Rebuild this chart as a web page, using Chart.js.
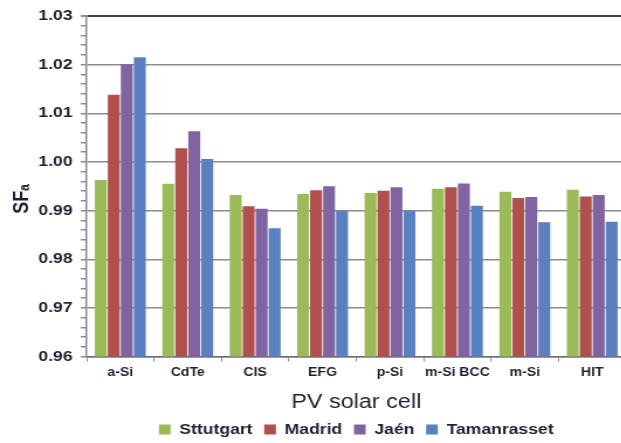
<!DOCTYPE html>
<html>
<head>
<meta charset="utf-8">
<script src="https://cdn.jsdelivr.net/npm/chart.js@4.4.0/dist/chart.umd.min.js"></script>
<style>
  body { margin: 0; background: #fff; overflow: hidden; }
  #wrap { width: 621px; height: 443px; overflow: hidden; }
  /* the source figure is stretched sideways a bit */
  #chart { transform: scaleX(1.17); transform-origin: 0 0; }
</style>
</head>
<body>
<div id="wrap"><canvas id="chart" width="536" height="443"></canvas></div>
<script>
const cells = ['a-Si', 'CdTe', 'CIS', 'EFG', 'p-Si', 'm-Si BCC', 'm-Si', 'HIT'];
const stuttgart   = [0.9963, 0.9955, 0.9932, 0.9934, 0.9936, 0.9945, 0.9939, 0.9943];
const madrid      = [1.0138, 1.0028, 0.9909, 0.9942, 0.9941, 0.9948, 0.9926, 0.9929];
const jaen        = [1.0201, 1.0063, 0.9904, 0.9950, 0.9948, 0.9956, 0.9928, 0.9932];
const tamanrasset = [1.0215, 1.0006, 0.9864, 0.9900, 0.9899, 0.9910, 0.9876, 0.9877];
const yMin = 0.96, yMax = 1.03, yStep = 0.002;

const textColor = '#1f1f33';
Chart.defaults.font.family = "Arial, 'Liberation Sans', sans-serif";
Chart.defaults.color = textColor;

// labels and grid only every 0.01, small ticks in between
const isMajor = v => Math.round(v * 1000) % 10 === 0;

new Chart(document.getElementById('chart'), {
  type: 'bar',
  data: {
    labels: cells,
    datasets: [
      { label: 'Sttutgart', data: stuttgart, backgroundColor: '#9bbb59' },
      { label: 'Madrid', data: madrid, backgroundColor: '#b0504d' },
      { label: 'Jaén', data: jaen, backgroundColor: '#8064a2' },
      { label: 'Tamanrasset', data: tamanrasset, backgroundColor: '#5b80bf' }
    ]
  },
  options: {
    responsive: false,
    animation: false,
    devicePixelRatio: 1,
    categoryPercentage: 0.77,
    barPercentage: 0.92,
    layout: { padding: { top: 16, right: 1, bottom: -4, left: 0 } },
    plugins: {
      tooltip: { enabled: false },
      legend: {
        position: 'bottom',
        fullSize: false,
        labels: {
          boxWidth: 10,
          boxHeight: 10,
          padding: 10,
          color: textColor,
          font: { size: 15, weight: 'bold' }
        }
      }
    },
    scales: {
      x: {
        grid: { offset: true, drawOnChartArea: false, tickLength: 5, tickColor: '#8c8c8c' },
        border: { color: '#6e6e6e', width: 1.5 },
        ticks: { padding: 4, maxRotation: 0, autoSkip: false, font: { size: 12, weight: 'bold' } },
        title: {
          display: true,
          text: 'PV solar cell',
          color: textColor,
          font: { size: 20, lineHeight: 1 },
          padding: { top: 8, bottom: 0 }
        }
      },
      y: {
        min: yMin,
        max: yMax,
        afterFit: s => { s.width = 74; },
        grid: {
          color: c => c.tick && Math.abs(c.tick.value - yMax) < 1e-6 ? '#404040'
            : (c.tick && isMajor(c.tick.value) ? '#8c8c8c' : 'rgba(0,0,0,0)'),
          lineWidth: c => c.tick && Math.abs(c.tick.value - yMax) < 1e-6 ? 2 : 1.5,
          tickColor: '#8c8c8c',
          tickLength: 5
        },
        border: { color: '#8c8c8c', width: 1.5 },
        ticks: {
          stepSize: yStep,
          autoSkip: false,
          padding: 7,
          font: { size: 15, weight: 'bold' },
          callback: v => isMajor(v) ? (Math.round(v * 100) / 100).toFixed(2) : ''
        },
        title: {
          display: true,
          text: 'SF\u2090     ',
          color: textColor,
          font: { size: 18, weight: 'bold' },
          padding: { top: 8, bottom: 0 }
        }
      }
    }
  }
});
</script>
</body>
</html>
